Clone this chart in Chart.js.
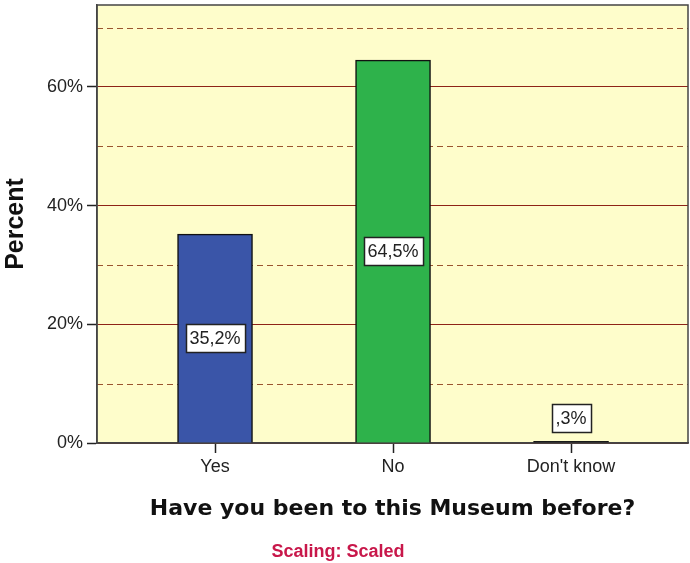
<!DOCTYPE html>
<html>
<head>
<meta charset="utf-8">
<script src="https://cdn.jsdelivr.net/npm/chart.js@4.4.0/dist/chart.umd.min.js"></script>
<style>
  body { margin: 0; background: #fff; }
  #wrap { width: 690px; height: 563px; position: relative; }
</style>
</head>
<body>
<div id="wrap"><canvas id="museumChart"></canvas></div>
<script>
// data
const categories = ['Yes', 'No', "Don't know"];
const percents = [35.2, 64.5, 0.3];
const barColors = ['#3A55A8', '#2EB24B', '#222222'];
const yTicks = [0, 20, 40, 60];
const yMinorTicks = [10, 30, 50, 70];
const yMax = 73.8;

// helper: 35.2 -> "35,2%", 0.3 -> ",3%"
function fmtPct(v) {
    let s = v.toFixed(1).replace('.', ',');
    if (s.startsWith('0,')) s = s.slice(1);
    return s + '%';
}

// yellow plot background + frame + dashed minor lines
const plotFrame = {
    id: 'plotFrame',
    beforeDraw(chart) {
        const { ctx, chartArea: a } = chart;
        ctx.save();
        ctx.fillStyle = '#FEFDCB';
        ctx.fillRect(a.left, a.top, a.right - a.left, a.bottom - a.top);
        ctx.restore();
    },
    beforeDatasetsDraw(chart) {
        const { ctx, chartArea: a, scales } = chart;
        ctx.save();
        ctx.strokeStyle = '#9A5530';
        ctx.lineWidth = 1;
        ctx.setLineDash([6, 4]);
        yMinorTicks.forEach(v => {
            const y = Math.round(scales.y.getPixelForValue(v)) + 0.5;
            ctx.beginPath();
            ctx.moveTo(a.left, y);
            ctx.lineTo(a.right, y);
            ctx.stroke();
        });
        ctx.setLineDash([]);
        ctx.strokeStyle = '#444';
        ctx.lineWidth = 1.5;
        ctx.strokeRect(a.left, a.top, a.right - a.left, a.bottom - a.top);
        ctx.restore();
    },
    afterDraw(chart) {
        const { ctx } = chart;
        ctx.save();
        ctx.fillStyle = '#C8174A';
        ctx.font = 'bold 18px "Liberation Sans", Arial, sans-serif';
        ctx.textAlign = 'center';
        ctx.textBaseline = 'middle';
        ctx.fillText('Scaling: Scaled', 338, 552);
        ctx.restore();
    }
};

// boxed value labels on the bars
const boxLabels = {
    id: 'boxLabels',
    afterDatasetsDraw(chart) {
        const { ctx } = chart;
        const meta = chart.getDatasetMeta(0);
        ctx.save();
        ctx.font = '18px "Liberation Sans", Arial, sans-serif';
        ctx.textAlign = 'center';
        ctx.textBaseline = 'middle';
        meta.data.forEach((bar, i) => {
            const txt = fmtPct(percents[i]);
            const w = ctx.measureText(txt).width + 8;
            const h = 28;
            let cy = (bar.y + bar.base) / 2;
            if (bar.base - bar.y < h + 10) cy = bar.y - 9 - h / 2;
            const x0 = Math.round(bar.x - w / 2) + 0.5;
            const y0 = Math.round(cy - h / 2) + 0.5;
            ctx.fillStyle = '#fff';
            ctx.fillRect(x0, y0, w, h);
            ctx.strokeStyle = '#222';
            ctx.lineWidth = 1.5;
            ctx.strokeRect(x0, y0, w, h);
            ctx.fillStyle = '#222';
            ctx.fillText(txt, bar.x, cy + 1);
        });
        ctx.restore();
    }
};

const ctx = document.getElementById('museumChart').getContext('2d');
new Chart(ctx, {
    type: 'bar',
    data: {
        datasets: [{
            data: percents.map((v, i) => ({ x: i, y: v })),
            backgroundColor: barColors,
            borderColor: '#111',
            borderWidth: 1.5,
            barThickness: 75
        }]
    },
    options: {
        responsive: true,
        maintainAspectRatio: false,
        animation: false,
        layout: { padding: { top: 5, right: 2 } },
        plugins: {
            legend: { display: false },
            tooltip: { enabled: false }
        },
        scales: {
            x: {
                type: 'linear',
                offset: false,
                min: -0.663,
                max: 2.657,
                afterBuildTicks: scale => { scale.ticks = categories.map((c, i) => ({ value: i })); },
                afterFit: scale => { scale.height = 120; scale.paddingLeft = 0; scale.paddingRight = 0; },
                ticks: {
                    callback: v => categories[v],
                    color: '#222',
                    font: { family: '"Liberation Sans", Arial, sans-serif', size: 18 },
                    padding: 3,
                    maxRotation: 0
                },
                grid: { offset: false, drawOnChartArea: false, tickLength: 10, tickColor: '#222', tickWidth: 1.5 },
                border: { color: '#444', width: 1.5 },
                title: {
                    display: true,
                    text: 'Have you been to this Museum before?',
                    color: '#111',
                    font: { family: '"DejaVu Sans", Verdana, sans-serif', size: 22, weight: 'bold' },
                    padding: { top: 0, bottom: 41 }
                }
            },
            y: {
                min: 0,
                max: yMax,
                afterBuildTicks: scale => { scale.ticks = yTicks.map(v => ({ value: v })); },
                afterFit: scale => { scale.width = 97; scale.paddingTop = 0; scale.paddingBottom = 0; },
                ticks: {
                    callback: v => v + '%',
                    color: '#222',
                    font: { family: '"Liberation Sans", Arial, sans-serif', size: 18 },
                    padding: 4
                },
                grid: { color: '#8E2418', lineWidth: 1, tickLength: 10, tickColor: '#222', tickWidth: 1.5 },
                border: { color: '#444', width: 1.5 },
                title: {
                    display: true,
                    text: 'Percent',
                    color: '#111',
                    font: { family: '"Liberation Sans", Arial, sans-serif', size: 25, weight: 'bold' },
                    padding: { top: 1, bottom: 0 }
                }
            }
        }
    },
    plugins: [plotFrame, boxLabels]
});
</script>
</body>
</html>
